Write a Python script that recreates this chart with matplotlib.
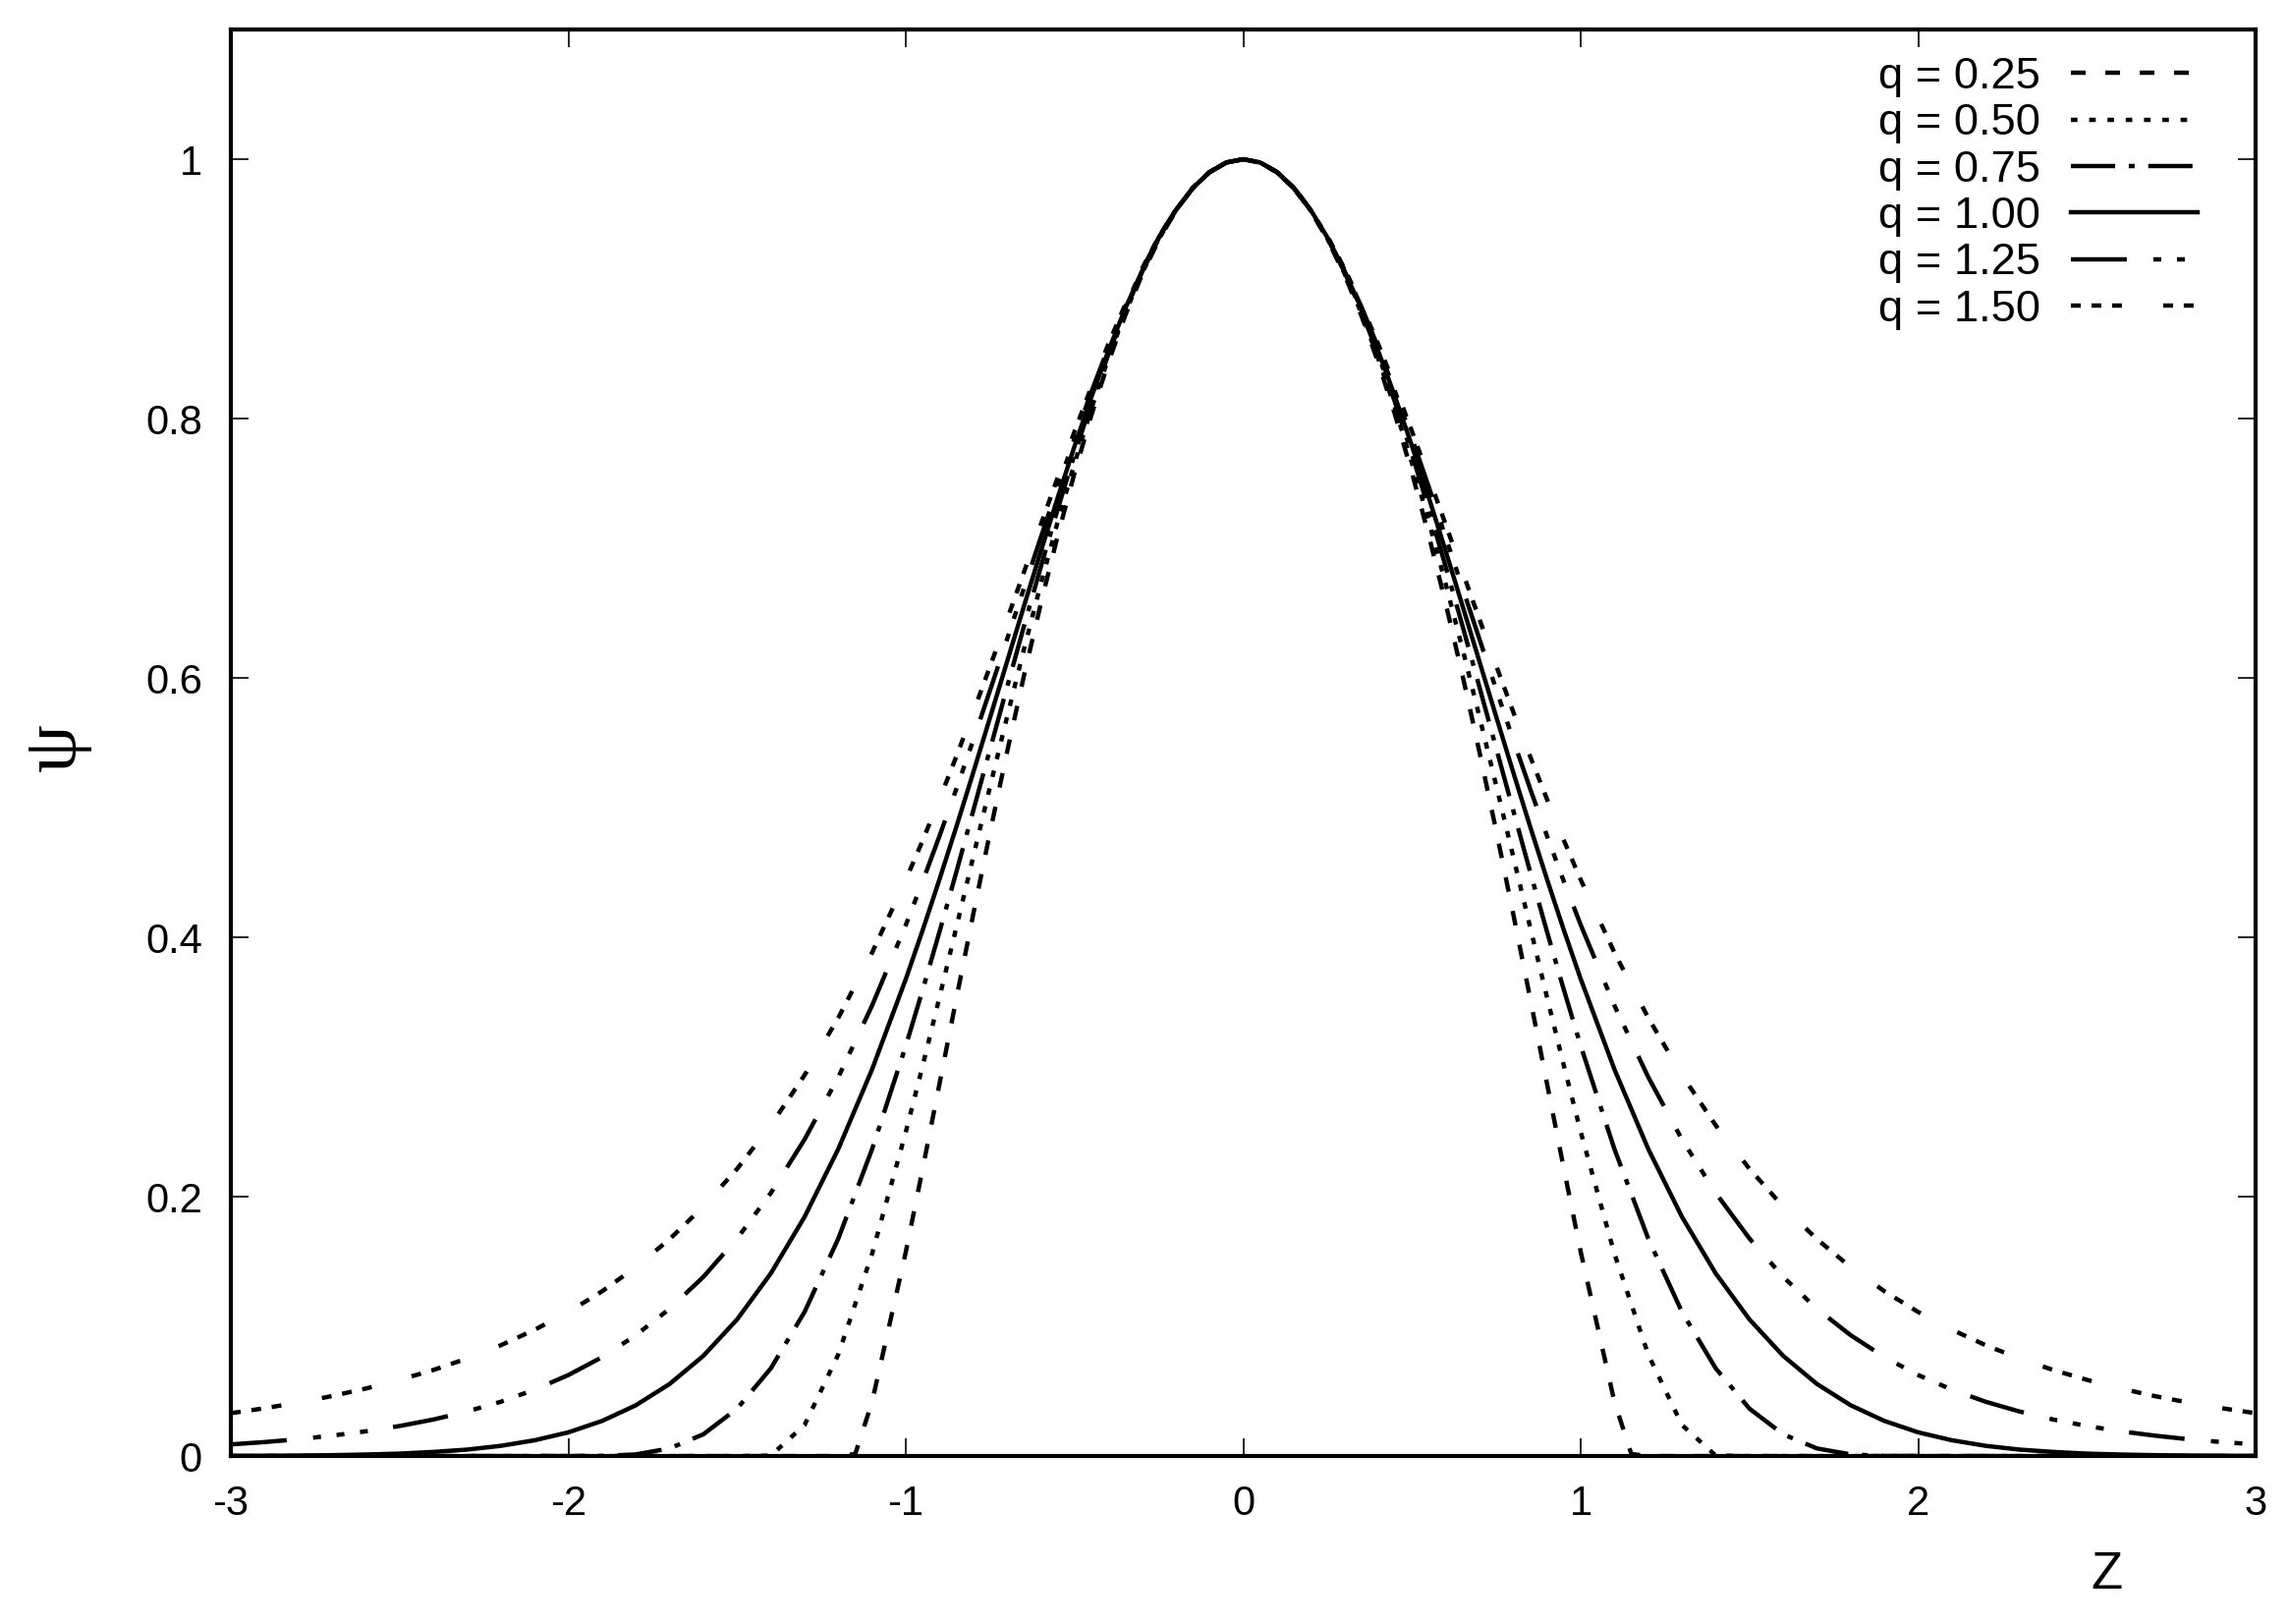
import numpy as np
import matplotlib.pyplot as plt

plt.rcParams['font.family'] = ['Liberation Sans', 'DejaVu Sans']
plt.rcParams['lines.scale_dashes'] = False
plt.rcParams['axes.unicode_minus'] = False

# z grid (half, 0..3), curves are symmetric so they get mirrored below
z_half = [0.0, 0.05, 0.1, 0.15, 0.2, 0.25, 0.3, 0.35, 0.4, 0.45, 0.5,
          0.55, 0.6, 0.65, 0.7, 0.75, 0.8, 0.85, 0.9, 0.95, 1.0,
          1.1, 1.2, 1.3, 1.4, 1.5, 1.6, 1.7, 1.8, 1.9, 2.0,
          2.1, 2.2, 2.3, 2.4, 2.5, 2.6, 2.7, 2.8, 2.9, 3.0]

# q = 0.25 drops to zero just after 1.15, so it gets one extra point
z_half_q025 = [0.0, 0.05, 0.1, 0.15, 0.2, 0.25, 0.3, 0.35, 0.4, 0.45, 0.5,
               0.55, 0.6, 0.65, 0.7, 0.75, 0.8, 0.85, 0.9, 0.95, 1.0,
               1.1, 1.15, 1.2, 1.3, 1.4, 1.5, 1.6, 1.7, 1.8, 1.9, 2.0,
               2.1, 2.2, 2.3, 2.4, 2.5, 2.6, 2.7, 2.8, 2.9, 3.0]

psi_q025 = [1.0000, 0.9975, 0.9900, 0.9776, 0.9602, 0.9380, 0.9110, 0.8794,
            0.8433, 0.8028, 0.7582, 0.7096, 0.6573, 0.6017, 0.5429, 0.4816,
            0.4181, 0.3532, 0.2874, 0.2217, 0.1575, 0.0418, 0.0016,
            0, 0, 0, 0, 0, 0, 0, 0, 0, 0, 0, 0, 0, 0, 0, 0, 0, 0, 0]
psi_q050 = [1.0000, 0.9975, 0.9900, 0.9776, 0.9604, 0.9385, 0.9120, 0.8813,
            0.8464, 0.8078, 0.7656, 0.7204, 0.6724, 0.6221, 0.5700, 0.5166,
            0.4624, 0.4080, 0.3540, 0.3011, 0.2500, 0.1560, 0.0784, 0.0240,
            0.0004, 0, 0, 0, 0, 0, 0, 0, 0, 0, 0, 0, 0, 0, 0, 0, 0]
psi_q075 = [1.0000, 0.9975, 0.9900, 0.9777, 0.9606, 0.9390, 0.9130, 0.8830,
            0.8493, 0.8124, 0.7725, 0.7301, 0.6857, 0.6399, 0.5929, 0.5454,
            0.4979, 0.4507, 0.4045, 0.3596, 0.3164, 0.2367, 0.1678, 0.1112,
            0.0677, 0.0366, 0.0168, 0.0059, 0.0013, 0.0001,
            0, 0, 0, 0, 0, 0, 0, 0, 0, 0, 0]
psi_q100 = [1.0000, 0.9975, 0.9900, 0.9778, 0.9608, 0.9394, 0.9139, 0.8847,
            0.8521, 0.8167, 0.7788, 0.7390, 0.6977, 0.6554, 0.6126, 0.5698,
            0.5273, 0.4855, 0.4449, 0.4056, 0.3679, 0.2982, 0.2369, 0.1845,
            0.1409, 0.1054, 0.0773, 0.0556, 0.0392, 0.0271, 0.0183, 0.0122,
            0.0079, 0.0050, 0.0032, 0.0019, 0.0012, 0.0007, 0.0004, 0.0002,
            0.0001]
psi_q125 = [1.0000, 0.9975, 0.9901, 0.9778, 0.9610, 0.9399, 0.9148, 0.8863,
            0.8548, 0.8207, 0.7847, 0.7471, 0.7084, 0.6692, 0.6299, 0.5908,
            0.5523, 0.5147, 0.4783, 0.4432, 0.4096, 0.3474, 0.2923, 0.2442,
            0.2029, 0.1678, 0.1382, 0.1136, 0.0932, 0.0763, 0.0625, 0.0512,
            0.0419, 0.0344, 0.0282, 0.0232, 0.0191, 0.0158, 0.0130, 0.0108,
            0.0090]
psi_q150 = [1.0000, 0.9975, 0.9901, 0.9779, 0.9612, 0.9403, 0.9157, 0.8879,
            0.8573, 0.8246, 0.7901, 0.7545, 0.7182, 0.6816, 0.6452, 0.6092,
            0.5739, 0.5397, 0.5066, 0.4748, 0.4444, 0.3882, 0.3380, 0.2938,
            0.2551, 0.2215, 0.1924, 0.1673, 0.1457, 0.1271, 0.1111, 0.0974,
            0.0855, 0.0753, 0.0664, 0.0588, 0.0521, 0.0463, 0.0413, 0.0369,
            0.0331]

labels = ['q = 0.25', 'q = 0.50', 'q = 0.75', 'q = 1.00', 'q = 1.25', 'q = 1.50']

# gnuplot-like dash patterns (points)
dash_styles = [
    (0, (10.8, 14.4)),
    (0, (4.8, 8.6)),
    (0, (32.4, 10.0, 4.3, 10.0)),
    'solid',
    (0, (41.0, 19.4, 5.8, 11.5, 5.8, 11.5, 5.8, 18.7)),
    (0, (7.2, 7.9, 7.2, 7.9, 7.2, 30.2)),
]


def mirror(z, psi):
    z = np.asarray(z)
    psi = np.asarray(psi)
    return (np.concatenate([-z[::-1], z[1:]]),
            np.concatenate([psi[::-1], psi[1:]]))


curves = [(z_half_q025, psi_q025), (z_half, psi_q050), (z_half, psi_q075),
          (z_half, psi_q100), (z_half, psi_q125), (z_half, psi_q150)]

fig = plt.figure(figsize=(23.3, 16.53), dpi=100)
ax = fig.add_axes([0.1009, 0.1034, 0.8845, 0.8784])

for (z, psi), lab, ls in zip(curves, labels, dash_styles):
    zz, pp = mirror(z, psi)
    ax.plot(zz, pp, color='black', lw=3.2, linestyle=ls, label=lab)

ax.set_xlim(-3, 3)
ax.set_ylim(0, 1.1)
ax.set_xticks([-3, -2, -1, 0, 1, 2, 3])
ax.set_yticks([0, 0.2, 0.4, 0.6, 0.8, 1.0])
ax.set_yticklabels(['0', '0.2', '0.4', '0.6', '0.8', '1'])
ax.tick_params(direction='in', length=13, width=1.2, labelsize=30,
               top=True, right=True, pad=21)
for s in ax.spines.values():
    s.set_linewidth(3.0)

ax.set_xlabel('Z', fontsize=38, va='center')
ax.xaxis.set_label_coords(0.9267, -0.0833)
ax.set_ylabel('ψ', fontsize=56, family=['Liberation Serif', 'DejaVu Serif'],
              va='center')
ax.yaxis.set_label_coords(-0.0865, 0.497)

ax.legend(loc='upper right', bbox_to_anchor=(0.9714, 0.9807), frameon=False,
          markerfirst=False, fontsize=32.6, handlelength=2.85,
          handletextpad=0.69, labelspacing=0.14, borderpad=0, borderaxespad=0)

plt.savefig('out.png', dpi=100)
